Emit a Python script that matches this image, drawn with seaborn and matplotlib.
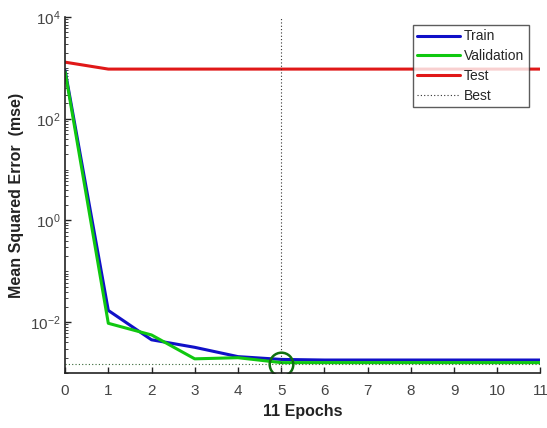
import numpy as np
import pandas as pd
import matplotlib
matplotlib.use("Agg")
import matplotlib.pyplot as plt
import seaborn as sns
from matplotlib.ticker import LogLocator, NullFormatter, FixedLocator
from matplotlib.lines import Line2D

sns.set_style("white")
plt.rcParams['font.family'] = ['Liberation Sans', 'DejaVu Sans']
plt.rcParams['mathtext.fontset'] = 'custom'
plt.rcParams['mathtext.rm'] = 'Liberation Sans'
plt.rcParams['mathtext.default'] = 'rm'

epochs = [0, 1, 2, 3, 4, 5, 6, 7, 8, 9, 10, 11]
train = [900, 0.017, 0.0045, 0.0032, 0.0021, 0.00185, 0.0018, 0.0018, 0.0018, 0.0018, 0.0018, 0.0018]
validation = [850, 0.0095, 0.0056, 0.0019, 0.002, 0.0016, 0.0016, 0.0016, 0.0016, 0.0016, 0.0016, 0.0016]
test = [1300, 950, 950, 950, 950, 950, 950, 950, 950, 950, 950, 950]
best_epoch = 5
best_value = 0.0015
x_ticks = [0, 1, 2, 3, 4, 5, 6, 7, 8, 9, 10, 11]
y_ticks = [1e-2, 1e0, 1e2, 1e4]

df = pd.DataFrame({"epoch": epochs * 3,
                   "mse": train + validation + test,
                   "series": ["Train"] * 12 + ["Validation"] * 12 + ["Test"] * 12})

fig = plt.figure(figsize=(5.47, 4.28), dpi=100)
ax = fig.add_axes([0.119, 0.1285, 0.869, 0.8315])

palette = {"Train": "#1010c8", "Validation": "#10c810", "Test": "#e01818"}
sns.lineplot(data=df, x="epoch", y="mse", hue="series", palette=palette,
             linewidth=2.2, ax=ax, legend=False, sort=False)

ax.set_yscale("log")
ax.set_xlim(0, 11)
ax.set_ylim(1e-3, 1e4)

# Best lines
ax.plot([best_epoch, best_epoch], [1e-3, 1e4], linestyle=(0, (1, 2)), color="#333333", linewidth=0.8)
ax.plot([0, 11], [best_value, best_value], linestyle=(0, (1, 2)), color="#336633", linewidth=0.8)
ax.plot([best_epoch], [best_value], marker="o", markersize=17, mfc="none", mec="#107010", mew=1.8)

ax.xaxis.set_major_locator(FixedLocator(x_ticks))
ax.yaxis.set_major_locator(FixedLocator(y_ticks))
ax.yaxis.set_minor_locator(LogLocator(base=10, subs=np.arange(1, 10), numticks=20))
ax.yaxis.set_minor_formatter(NullFormatter())
ax.set_yticklabels([r"$10^{-2}$", r"$10^{0}$", r"$10^{2}$", r"$10^{4}$"])

ax.tick_params(axis="both", which="major", direction="in", length=4, width=1,
               colors="#222222", labelcolor="#444444", labelsize=11)
ax.tick_params(axis="y", which="minor", direction="in", length=2, width=0.6, colors="#222222", left=True)
ax.tick_params(axis="both", which="major", bottom=True, left=True)
ax.tick_params(axis="x", pad=8)

for s in ["top", "right"]:
    ax.spines[s].set_visible(False)
for s in ["left", "bottom"]:
    ax.spines[s].set_color("#222222")
    ax.spines[s].set_linewidth(1.2)

ax.set_xlabel("11 Epochs", fontsize=11.5, fontweight="bold", color="#222222")
ax.set_ylabel("Mean Squared Error  (mse)", fontsize=11.5, fontweight="bold", color="#222222")

handles = [Line2D([], [], color=palette["Train"], lw=2.2),
           Line2D([], [], color=palette["Validation"], lw=2.2),
           Line2D([], [], color=palette["Test"], lw=2.2),
           Line2D([], [], color="#333333", lw=0.8, linestyle=(0, (1, 2)))]
leg = ax.legend(handles, ["Train", "Validation", "Test", "Best"], loc="upper right",
                bbox_to_anchor=(0.975, 0.977), fontsize=10, frameon=True, fancybox=False,
                edgecolor="#333333", handlelength=3.1, handletextpad=0.3,
                labelspacing=0.42, borderpad=0.3, borderaxespad=0)
leg.get_frame().set_linewidth(1.0)

fig.savefig("out.png", dpi=100)
